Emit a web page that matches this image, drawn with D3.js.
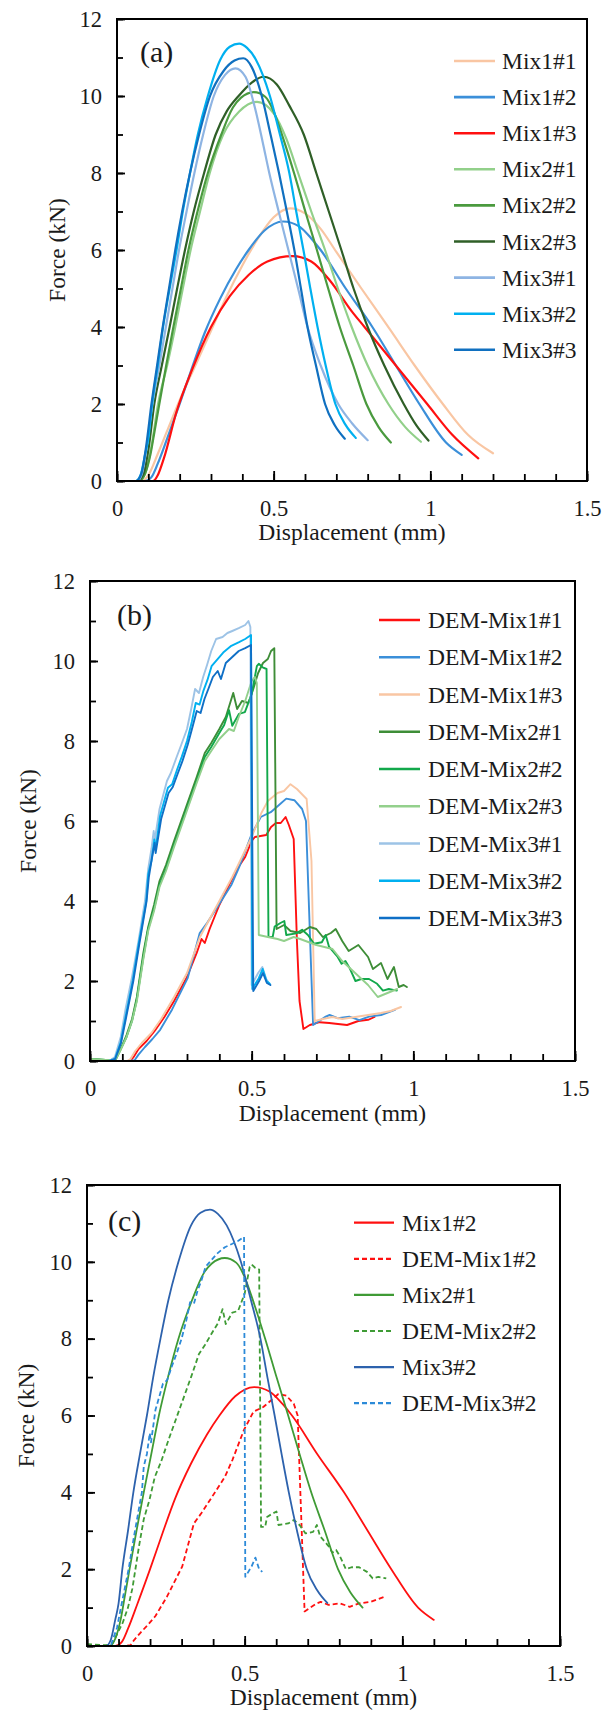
<!DOCTYPE html>
<html><head><meta charset="utf-8">
<script src="https://cdn.jsdelivr.net/npm/d3@7"></script>
<style>body{margin:0;background:#fff}svg{display:block}</style>
</head><body>
<svg id="chart" width="603" height="1710"></svg>
<script>
// ---------- DATA (displacement mm, force kN) ----------
const xTickValues = [0, 0.5, 1, 1.5];
const yTickValues = [0, 2, 4, 6, 8, 10, 12];

// Panel (a) experimental curves
const mix1_1 = [[0,0],[0.08,0],[0.1,0.15],[0.13,0.7],[0.16,1.3],[0.2,2.1],[0.25,3.0],[0.3,3.9],[0.35,4.8],[0.4,5.6],[0.45,6.3],[0.5,6.85],[0.553,7.08],[0.6,6.95],[0.65,6.55],[0.7,5.95],[0.78,5.0],[0.87,3.95],[0.95,3.0],[1.04,2.0],[1.12,1.2],[1.2,0.72]];
const mix1_2 = [[0,0],[0.09,0],[0.11,0.1],[0.13,0.45],[0.16,1.1],[0.2,2.0],[0.24,2.95],[0.28,3.85],[0.33,4.75],[0.38,5.5],[0.42,6.0],[0.47,6.5],[0.53,6.74],[0.58,6.62],[0.62,6.3],[0.65,6.0],[0.73,5.0],[0.815,4.0],[0.89,3.0],[0.965,2.0],[1.05,1.0],[1.1,0.68]];
const mix1_3 = [[0,0],[0.115,0],[0.13,0.15],[0.15,0.6],[0.19,1.8],[0.24,2.9],[0.3,4.0],[0.36,4.8],[0.42,5.35],[0.48,5.7],[0.56,5.84],[0.62,5.7],[0.68,5.2],[0.75,4.4],[0.79,4.0],[0.89,3.0],[0.99,2.0],[1.07,1.2],[1.153,0.59]];
const mix2_1 = [[0,0],[0.07,0],[0.09,0.2],[0.11,0.9],[0.131,2.0],[0.16,3.0],[0.186,4.0],[0.21,5.0],[0.235,6.0],[0.265,7.0],[0.296,8.0],[0.339,9.0],[0.39,9.6],[0.447,9.85],[0.5,9.55],[0.54,8.9],[0.578,8.0],[0.62,7.0],[0.664,6.0],[0.705,5.0],[0.749,4.0],[0.8,3.0],[0.866,2.0],[0.92,1.4],[0.97,1.02]];
const mix2_2 = [[0,0],[0.07,0],[0.09,0.2],[0.107,0.7],[0.12,1.3],[0.135,2.0],[0.157,3.0],[0.18,4.0],[0.204,5.0],[0.228,6.0],[0.257,7.0],[0.29,8.0],[0.333,9.0],[0.37,9.7],[0.395,9.95],[0.437,10.1],[0.473,9.98],[0.5,9.6],[0.522,9.1],[0.565,8.0],[0.601,7.0],[0.638,6.0],[0.674,5.0],[0.711,4.0],[0.754,3.0],[0.796,2.0],[0.835,1.4],[0.874,1.0]];
const mix2_3 = [[0,0],[0.065,0],[0.085,0.2],[0.1,0.8],[0.119,2.0],[0.143,3.0],[0.168,4.0],[0.192,5.0],[0.217,6.0],[0.245,7.0],[0.278,8.0],[0.315,9.0],[0.35,9.6],[0.388,10.0],[0.43,10.35],[0.468,10.5],[0.51,10.3],[0.55,9.75],[0.596,9.0],[0.636,8.0],[0.676,7.0],[0.716,6.0],[0.755,5.0],[0.8,4.0],[0.853,3.0],[0.915,2.0],[0.955,1.45],[0.994,1.05]];
const mix3_1 = [[0,0],[0.065,0],[0.08,0.2],[0.095,0.9],[0.113,2.0],[0.135,3.0],[0.156,4.0],[0.177,5.0],[0.198,6.0],[0.222,7.0],[0.247,8.0],[0.275,9.0],[0.309,10.0],[0.345,10.55],[0.378,10.72],[0.41,10.5],[0.44,9.7],[0.465,8.8],[0.486,8.0],[0.516,7.0],[0.547,6.0],[0.578,5.0],[0.608,4.0],[0.65,3.0],[0.706,2.0],[0.75,1.5],[0.8,1.06]];
const mix3_2 = [[0,0],[0.06,0],[0.075,0.15],[0.09,0.7],[0.1,1.1],[0.112,2.0],[0.13,3.0],[0.147,4.0],[0.168,5.0],[0.19,6.0],[0.21,7.0],[0.233,8.0],[0.258,9.0],[0.29,10.0],[0.33,10.95],[0.36,11.28],[0.39,11.36],[0.415,11.25],[0.443,10.95],[0.488,10.0],[0.52,9.0],[0.55,8.0],[0.572,7.0],[0.595,6.0],[0.617,5.0],[0.64,4.0],[0.666,3.0],[0.697,2.0],[0.73,1.45],[0.762,1.12]];
const mix3_3 = [[0,0],[0.06,0],[0.078,0.2],[0.093,0.9],[0.11,2.0],[0.128,3.0],[0.146,4.0],[0.166,5.0],[0.186,6.0],[0.208,7.0],[0.233,8.0],[0.262,9.0],[0.297,10.0],[0.34,10.65],[0.375,10.92],[0.403,10.98],[0.43,10.75],[0.462,10.0],[0.49,9.0],[0.517,8.0],[0.542,7.0],[0.566,6.0],[0.587,5.0],[0.608,4.0],[0.635,3.0],[0.664,2.0],[0.695,1.45],[0.727,1.1]];

// Panel (b) DEM curves
const demMix1_1 = [[0,0],[0.125,0],[0.135,0.1],[0.15,0.3],[0.175,0.5],[0.2,0.75],[0.23,1.1],[0.26,1.5],[0.3,2.1],[0.33,2.7],[0.345,3.05],[0.355,2.95],[0.37,3.3],[0.4,3.9],[0.43,4.4],[0.455,4.8],[0.48,5.1],[0.5,5.5],[0.51,5.6],[0.545,5.65],[0.56,5.85],[0.575,5.95],[0.59,5.95],[0.605,6.1],[0.615,5.9],[0.63,5.55],[0.64,3.0],[0.648,1.5],[0.66,0.8],[0.68,0.9],[0.71,0.97],[0.74,0.95],[0.76,0.93],[0.795,0.9],[0.83,1.0],[0.86,1.03],[0.88,1.1]];
const demMix1_2 = [[0,0],[0.12,0],[0.138,0.02],[0.15,0.16],[0.17,0.35],[0.193,0.55],[0.217,0.78],[0.254,1.29],[0.302,2.07],[0.339,3.19],[0.363,3.46],[0.394,3.85],[0.437,4.4],[0.461,4.84],[0.498,5.63],[0.528,6.1],[0.559,6.22],[0.589,6.43],[0.607,6.56],[0.632,6.52],[0.656,6.3],[0.668,6.0],[0.69,0.9],[0.729,1.11],[0.741,1.15],[0.766,1.07],[0.802,1.11],[0.833,1.02],[0.863,1.11],[0.9,1.15],[0.943,1.28]];
const demMix1_3 = [[0,0],[0.115,0],[0.125,0.05],[0.14,0.25],[0.16,0.45],[0.19,0.7],[0.22,1.05],[0.26,1.6],[0.3,2.2],[0.34,3.1],[0.36,3.4],[0.4,4.0],[0.44,4.6],[0.47,5.1],[0.5,5.6],[0.53,6.2],[0.55,6.5],[0.58,6.7],[0.6,6.75],[0.62,6.92],[0.64,6.8],[0.67,6.55],[0.685,5.0],[0.695,1.0],[0.72,1.05],[0.75,1.1],[0.78,1.05],[0.82,1.1],[0.86,1.15],[0.9,1.2],[0.93,1.25],[0.962,1.35]];
const demMix2_1 = [[0,0.05],[0.06,0.02],[0.08,0.05],[0.095,0.3],[0.113,0.65],[0.13,1.05],[0.145,1.6],[0.165,2.7],[0.18,3.35],[0.198,3.9],[0.215,4.5],[0.235,4.9],[0.26,5.5],[0.295,6.3],[0.33,7.1],[0.355,7.7],[0.375,7.95],[0.4,8.3],[0.42,8.6],[0.443,9.2],[0.455,8.8],[0.47,9.0],[0.49,8.95],[0.505,9.3],[0.52,9.7],[0.535,9.95],[0.55,10.05],[0.56,10.25],[0.57,10.32],[0.577,3.3],[0.6,3.4],[0.62,3.25],[0.65,3.2],[0.68,3.35],[0.7,3.3],[0.72,3.1],[0.745,3.2],[0.76,3.3],[0.78,3.0],[0.8,2.75],[0.83,2.9],[0.86,2.6],[0.875,2.3],[0.9,2.45],[0.92,2.05],[0.94,2.35],[0.955,1.85],[0.97,1.9],[0.98,1.85]];
const demMix2_2 = [[0,0.05],[0.06,0.02],[0.08,0.05],[0.095,0.3],[0.113,0.6],[0.13,1.0],[0.144,1.5],[0.165,2.6],[0.18,3.3],[0.198,3.8],[0.215,4.4],[0.235,4.8],[0.26,5.4],[0.295,6.2],[0.33,7.0],[0.355,7.6],[0.375,7.85],[0.4,8.2],[0.415,8.4],[0.43,8.77],[0.44,8.38],[0.461,8.68],[0.479,8.72],[0.5,9.17],[0.516,9.87],[0.522,9.93],[0.534,9.84],[0.546,9.8],[0.552,3.1],[0.565,3.1],[0.571,3.36],[0.589,3.45],[0.601,3.5],[0.607,3.15],[0.638,3.19],[0.656,3.28],[0.674,3.15],[0.693,2.93],[0.717,2.97],[0.729,3.15],[0.739,2.86],[0.766,2.6],[0.778,2.43],[0.79,2.5],[0.802,2.34],[0.821,2.0],[0.839,2.05],[0.863,2.05],[0.888,1.93],[0.906,1.76],[0.924,1.8],[0.949,1.76]];
const demMix2_3 = [[0,0.05],[0.06,0.02],[0.08,0.05],[0.095,0.28],[0.113,0.6],[0.13,1.0],[0.145,1.5],[0.165,2.55],[0.18,3.25],[0.198,3.75],[0.215,4.35],[0.235,4.75],[0.26,5.35],[0.295,6.15],[0.33,6.95],[0.355,7.5],[0.375,7.75],[0.4,8.05],[0.43,8.3],[0.445,8.25],[0.46,8.6],[0.48,9.0],[0.5,9.5],[0.51,9.6],[0.516,9.45],[0.522,3.15],[0.55,3.1],[0.58,3.05],[0.6,3.0],[0.63,3.1],[0.65,3.05],[0.7,2.9],[0.75,2.8],[0.78,2.5],[0.82,2.2],[0.86,1.9],[0.89,1.6],[0.92,1.7],[0.95,1.8]];
const demMix3_1 = [[0,0],[0.06,0],[0.077,0.1],[0.095,0.6],[0.11,1.3],[0.13,2.1],[0.15,3.0],[0.17,4.0],[0.18,4.8],[0.19,5.3],[0.197,5.75],[0.2,5.5],[0.215,6.3],[0.238,7.0],[0.25,7.2],[0.268,7.6],[0.282,7.9],[0.3,8.3],[0.313,8.8],[0.325,9.3],[0.337,9.2],[0.35,9.6],[0.362,9.9],[0.375,10.25],[0.39,10.55],[0.41,10.6],[0.425,10.7],[0.44,10.75],[0.46,10.82],[0.48,10.9],[0.49,11.0],[0.496,10.85],[0.5,1.9],[0.52,2.2],[0.533,2.35],[0.545,2.05],[0.553,1.95]];
const demMix3_2 = [[0,0],[0.06,0],[0.077,0.05],[0.095,0.47],[0.11,1.1],[0.132,2.0],[0.15,2.9],[0.174,4.0],[0.18,4.67],[0.19,5.0],[0.199,5.54],[0.203,5.3],[0.217,6.14],[0.241,6.83],[0.254,6.92],[0.27,7.3],[0.284,7.61],[0.3,8.0],[0.315,8.48],[0.327,8.95],[0.339,8.91],[0.351,9.26],[0.363,9.52],[0.376,9.87],[0.394,10.04],[0.412,10.21],[0.437,10.38],[0.461,10.47],[0.48,10.55],[0.498,10.65],[0.502,1.8],[0.522,2.07],[0.534,2.3],[0.546,2.0],[0.556,1.93]];
const demMix3_3 = [[0,0],[0.06,0],[0.078,0.05],[0.096,0.45],[0.112,1.1],[0.134,2.0],[0.152,2.9],[0.175,4.0],[0.182,4.6],[0.19,5.0],[0.2,5.45],[0.203,5.2],[0.22,6.05],[0.243,6.7],[0.256,6.85],[0.272,7.2],[0.286,7.5],[0.302,7.9],[0.317,8.35],[0.33,8.75],[0.342,8.7],[0.354,9.05],[0.366,9.3],[0.38,9.6],[0.395,9.75],[0.405,9.55],[0.42,9.95],[0.44,10.1],[0.46,10.25],[0.48,10.32],[0.498,10.4],[0.505,1.75],[0.523,2.0],[0.535,2.2],[0.547,1.95],[0.558,1.9]];

// ---------- DRAWING ----------
const FONT = "'Liberation Serif','Times New Roman',serif";
const svg = d3.select("#chart");

function drawPanel(p) {
  const x = d3.scaleLinear().domain([0, 1.5]).range([p.left, p.right]);
  const y = d3.scaleLinear().domain([0, 12]).range([p.bottom, p.top]);
  const g = svg.append("g");

  const smooth = d3.line().x(d => x(d[0])).y(d => y(d[1])).curve(d3.curveMonotoneX);
  const jag = d3.line().x(d => x(d[0])).y(d => y(d[1])).curve(d3.curveLinear);
  p.series.forEach(s => {
    g.append("path").attr("d", (s.smooth ? smooth : jag)(s.data))
      .attr("fill", "none").attr("stroke", s.color).attr("stroke-width", s.width || p.lw)
      .attr("stroke-dasharray", s.dash ? "5,3" : null)
      .attr("stroke-linejoin", "round").attr("stroke-linecap", s.dash ? "butt" : "round");
  });

  // axes (ticks inward)
  const minorX = d3.range(0, 15.5, 1).map(v => v / 10);
  const minorY = d3.range(0, 13, 1);
  const ax = g.append("g").attr("transform", `translate(0,${p.bottom})`)
    .call(d3.axisBottom(x).tickValues(minorX).tickSize(-7).tickFormat(""));
  ax.select(".domain").remove();
  const axM = g.append("g").attr("transform", `translate(0,${p.bottom})`)
    .call(d3.axisBottom(x).tickValues(xTickValues).tickSize(-10).tickPadding(19).tickFormat(d3.format("")));
  axM.select(".domain").remove();
  const ay = g.append("g").attr("transform", `translate(${p.left},0)`)
    .call(d3.axisLeft(y).tickValues(minorY).tickSize(-6).tickFormat(""));
  ay.select(".domain").remove();
  const ayM = g.append("g").attr("transform", `translate(${p.left},0)`)
    .call(d3.axisLeft(y).tickValues(yTickValues).tickSize(-8).tickPadding(15).tickFormat(d3.format("")));
  ayM.select(".domain").remove();
  g.selectAll(".tick line").attr("stroke", "#000").attr("stroke-width", 1.8);
  g.selectAll(".tick text").attr("font-family", FONT).attr("font-size", 22.5).attr("fill", "#1a1a1a");

  // frame
  g.append("rect").attr("x", p.left).attr("y", p.top)
    .attr("width", p.right - p.left).attr("height", p.bottom - p.top)
    .attr("fill", "none").attr("stroke", "#000").attr("stroke-width", 2);

  // axis titles
  g.append("text").attr("x", (p.left + p.right) / 2).attr("y", p.xTitleY + 9)
    .attr("text-anchor", "middle").attr("font-family", FONT).attr("font-size", 23.5)
    .attr("fill", "#1a1a1a").text("Displacement (mm)");
  const cy = (p.top + p.bottom) / 2;
  g.append("text").attr("x", p.yTitleX).attr("y", cy)
    .attr("transform", `rotate(-90,${p.yTitleX},${cy})`)
    .attr("text-anchor", "middle").attr("dominant-baseline", "central")
    .attr("font-family", FONT).attr("font-size", 23.5)
    .attr("fill", "#1a1a1a").text("Force (kN)");

  // panel label
  g.append("text").attr("x", p.labelX).attr("y", p.labelY)
    .attr("font-family", FONT).attr("font-size", 30).attr("fill", "#1a1a1a").text(p.label);

  // legend
  p.series.forEach((s, i) => {
    const yy = p.legY + i * p.legStep;
    g.append("line").attr("x1", p.legX1).attr("x2", p.legX2).attr("y1", yy).attr("y2", yy)
      .attr("stroke", s.color).attr("stroke-width", (s.width || p.lw) + 0.4)
      .attr("stroke-dasharray", s.dash ? "5,3" : null);
    g.append("text").attr("x", p.legTX).attr("y", yy + 8)
      .attr("font-family", FONT).attr("font-size", 23.5).attr("fill", "#1a1a1a").text(s.name);
  });
}

const PEACH = "#f9c6a3", BLUE = "#3b8fd9", RED = "#ff1010", LGREEN = "#92d08a",
      GREEN = "#4a9a3e", DGREEN = "#2f5f27", LBLUE = "#8eb4e3", CYAN = "#00b0f0", DBLUE = "#1070c0";

drawPanel({
  left: 117, right: 587, top: 19, bottom: 481, lw: 2.2,
  xTitleY: 531, yTitleX: 57, label: "(a)", labelX: 140, labelY: 62,
  legX1: 454, legX2: 495, legTX: 502, legY: 61, legStep: 36.1,
  series: [
    {name: "Mix1#1", data: mix1_1, color: PEACH, smooth: true},
    {name: "Mix1#2", data: mix1_2, color: BLUE, smooth: true},
    {name: "Mix1#3", data: mix1_3, color: RED, smooth: true},
    {name: "Mix2#1", data: mix2_1, color: LGREEN, smooth: true},
    {name: "Mix2#2", data: mix2_2, color: GREEN, smooth: true},
    {name: "Mix2#3", data: mix2_3, color: DGREEN, smooth: true},
    {name: "Mix3#1", data: mix3_1, color: LBLUE, smooth: true},
    {name: "Mix3#2", data: mix3_2, color: CYAN, smooth: true},
    {name: "Mix3#3", data: mix3_3, color: DBLUE, smooth: true}
  ]
});

drawPanel({
  left: 90, right: 575, top: 581, bottom: 1061, lw: 1.9,
  xTitleY: 1112, yTitleX: 28, label: "(b)", labelX: 117, labelY: 625,
  legX1: 379, legX2: 420, legTX: 428, legY: 620, legStep: 37.25,
  series: [
    {name: "DEM-Mix1#1", data: demMix1_1, color: RED},
    {name: "DEM-Mix1#2", data: demMix1_2, color: BLUE},
    {name: "DEM-Mix1#3", data: demMix1_3, color: PEACH},
    {name: "DEM-Mix2#1", data: demMix2_1, color: "#3e8d37"},
    {name: "DEM-Mix2#2", data: demMix2_2, color: "#12a84b"},
    {name: "DEM-Mix2#3", data: demMix2_3, color: "#93d08c"},
    {name: "DEM-Mix3#1", data: demMix3_1, color: "#9dc3e6"},
    {name: "DEM-Mix3#2", data: demMix3_2, color: CYAN},
    {name: "DEM-Mix3#3", data: demMix3_3, color: "#0f6fc6"}
  ]
});

drawPanel({
  left: 87, right: 560, top: 1185, bottom: 1646, lw: 1.8,
  xTitleY: 1696, yTitleX: 26, label: "(c)", labelX: 108, labelY: 1231,
  legX1: 354, legX2: 394, legTX: 402, legY: 1222.7, legStep: 36.1,
  series: [
    {name: "Mix1#2", data: mix1_2, color: "#ff1010", smooth: true},
    {name: "DEM-Mix1#2", data: demMix1_2, color: "#ff1010", dash: true},
    {name: "Mix2#1", data: mix2_2, color: "#3f9b35", smooth: true},
    {name: "DEM-Mix2#2", data: demMix2_2, color: "#3f9b35", dash: true},
    {name: "Mix3#2", data: mix3_2, color: "#2d62ad", smooth: true},
    {name: "DEM-Mix3#2", data: demMix3_2, color: "#2c8ad8", dash: true}
  ]
});
</script>
</body></html>
